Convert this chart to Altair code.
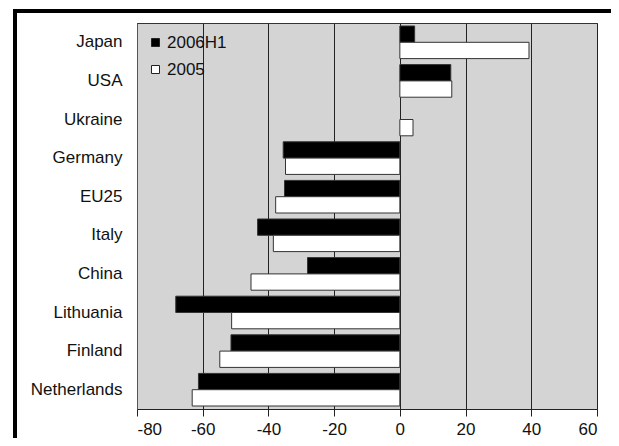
import altair as alt
import pandas as pd

countries = ["Japan", "USA", "Ukraine", "Germany", "EU25", "Italy", "China",
             "Lithuania", "Finland", "Netherlands"]
series = ["2006H1", "2005"]
v2006 = [4.5, 15.5, None, -35.5, -35.1, -43.3, -28.1, -68.2, -51.4, -61.3]
v2005 = [39.3, 15.8, 4.0, -34.8, -37.8, -38.5, -45.3, -51.2, -54.8, -63.2]
x_ticks = [-80, -60, -40, -20, 0, 20, 40, 60]

rows = []
for c, a, b in zip(countries, v2006, v2005):
    if a is not None:
        rows.append({"country": c, "series": series[0], "value": a})
    if b is not None:
        rows.append({"country": c, "series": series[1], "value": b})
df = pd.DataFrame(rows)

FONT = "Liberation Sans"
FS = 17

bars = alt.Chart(df).mark_bar(stroke="#333333", strokeWidth=1).encode(
    y=alt.Y("country:N", sort=countries,
            scale=alt.Scale(paddingInner=0.155, paddingOuter=0.0775),
            axis=alt.Axis(title=None, ticks=False, labelPadding=15,
                          labelFontSize=FS, labelFont=FONT, labelColor="#111111",
                          domainColor="#555555", grid=False)),
    yOffset=alt.YOffset("series:N", sort=series,
                        scale=alt.Scale(paddingInner=0, paddingOuter=0)),
    x=alt.X("value:Q", scale=alt.Scale(domain=[-80, 60], nice=False),
            axis=alt.Axis(title=None, values=x_ticks, labelFontSize=FS,
                          labelFont=FONT, labelColor="#111111", tickSize=7,
                          tickColor="#222222", domainColor="#222222",
                          labelExpr="datum.value + ''",
                          labelPadding=5, grid=True, gridColor="#222222",
                          gridWidth=1, gridOpacity=1)),
    color=alt.Color("series:N", sort=series,
                    scale=alt.Scale(domain=series, range=["#000000", "#ffffff"]),
                    legend=alt.Legend(title=None, orient="none", legendX=10,
                                      legendY=11, symbolType="square",
                                      symbolSize=64, symbolStrokeColor="#222222",
                                      symbolStrokeWidth=1, labelFontSize=FS,
                                      labelFont=FONT, labelColor="#111111",
                                      labelOffset=3, rowPadding=9, padding=0)),
)

frame_top = alt.Chart(df).mark_rule(color="#000000", strokeWidth=4).encode(
    x=alt.value(-124), x2=alt.value(500), y=alt.value(-12)
)
frame_left = alt.Chart(df).mark_rule(color="#000000", strokeWidth=4).encode(
    x=alt.value(-122), y=alt.value(-14), y2=alt.value(450)
)

chart = alt.layer(bars, frame_top, frame_left).properties(
    width=460, height=386,
    autosize=alt.AutoSizeParams(type="none"),
    padding={"left": 129, "top": 15, "right": 14, "bottom": 29},
    background="#ffffff",
).configure_view(fill="#d4d4d4", stroke="#333333", strokeWidth=1)

chart.save("out.html", embed_options={"renderer": "svg", "actions": False})
